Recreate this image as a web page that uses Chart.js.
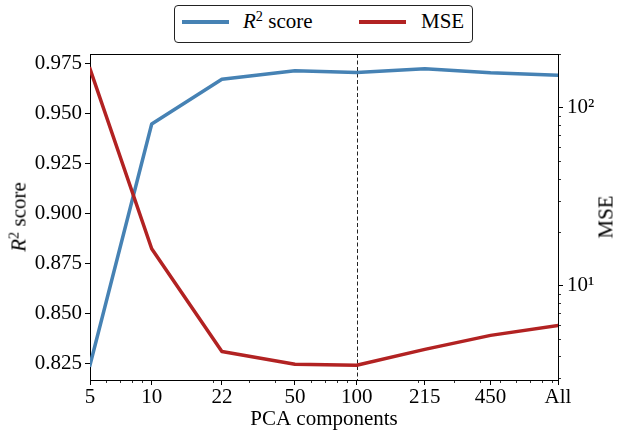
<!DOCTYPE html>
<html>
<head>
<meta charset="utf-8">
<script src="https://cdn.jsdelivr.net/npm/chart.js@4"></script>
<style>
  body { margin: 0; background: #fff; }
  #wrap { position: relative; width: 617px; height: 432px; font-family: 'Liberation Serif', serif; color: #000; }
  #legend { position: absolute; left: 174px; top: 5px; width: 297px; height: 36px; border: 1px solid #222; border-radius: 4px; background: #fff; }
  .swatch { position: absolute; top: 14px; width: 47px; height: 4px; }
  .lbl { position: absolute; top: 5px; font-size: 21px; line-height: 21px; white-space: nowrap; }
  .sup { font-size: 0.68em; position: relative; top: -0.5em; }
  .ytitle { position: absolute; font-size: 21px; line-height: 21px; white-space: nowrap; transform: translate(-50%, -50%) rotate(-90deg); }
</style>
</head>
<body>
<div id="wrap">
  <canvas id="myChart" width="617" height="432"></canvas>
  <div id="legend">
    <div class="swatch" style="left:7px; background:#4682b4"></div>
    <div class="lbl" style="left:68px"><i>R</i><span class="sup">2</span> score</div>
    <div class="swatch" style="left:184px; background:#b22222"></div>
    <div class="lbl" style="left:246px">MSE</div>
  </div>
  <div class="ytitle" style="left:20px; top:217px"><i>R</i><span class="sup">2</span> score</div>
  <div class="ytitle" style="left:606px; top:217px">MSE</div>
</div>
<script>
// data
const xLabels = ["5", "10", "22", "50", "100", "215", "450", "All"];
const components = [5, 10, 22, 50, 100, 215, 450, 960];
const r2Score = [0.824, 0.9446, 0.967, 0.9712, 0.9704, 0.9722, 0.9702, 0.969];
const mse = [166, 16.1, 4.25, 3.6, 3.56, 4.37, 5.24, 5.96];
const r2Ticks = [0.825, 0.85, 0.875, 0.9, 0.925, 0.95, 0.975];
const mseTicks = [10, 100];
const mseTickLabels = ["10¹", "10²"];
const cutoff = 100;

const xMinor = [6, 7, 8, 9, 20, 30, 40, 60, 70, 80, 90, 200, 300, 400, 500, 600, 700, 800, 900];
const mseMinor = [3, 4, 5, 6, 7, 8, 9, 20, 30, 40, 50, 60, 70, 80, 90, 200];

// matplotlib style 5% margins
const r2Lo = Math.min(...r2Score), r2Hi = Math.max(...r2Score);
const r2Pad = 0.05 * (r2Hi - r2Lo);
const mLo = Math.log10(Math.min(...mse)), mHi = Math.log10(Math.max(...mse));
const mPad = 0.05 * (mHi - mLo);

const font = { family: "'Liberation Serif', serif", size: 21 };
const black = "#000";

const frame = {
  id: "frame",
  beforeDatasetsDraw(chart) {
    const { ctx, chartArea: a, scales } = chart;
    ctx.save();
    // dashed marker
    const px = Math.round(scales.x.getPixelForValue(cutoff)) + 0.5;
    ctx.strokeStyle = "#222";
    ctx.lineWidth = 1;
    ctx.setLineDash([4, 2.5]);
    ctx.beginPath();
    ctx.moveTo(px, a.top);
    ctx.lineTo(px, a.bottom);
    ctx.stroke();
    ctx.restore();
  },
  afterDraw(chart) {
    const { ctx, chartArea: a, scales } = chart;
    ctx.save();
    ctx.strokeStyle = black;
    ctx.lineWidth = 1;
    ctx.beginPath();
    ctx.moveTo(a.left, Math.round(a.top) + 0.5);
    ctx.lineTo(a.right + 1, Math.round(a.top) + 0.5);
    ctx.stroke();
    // minor ticks
    ctx.lineWidth = 0.8;
    ctx.beginPath();
    xMinor.forEach((v) => {
      if (v <= scales.x.min || v >= scales.x.max) return;
      const px = Math.round(scales.x.getPixelForValue(v)) + 0.5;
      ctx.moveTo(px, a.bottom);
      ctx.lineTo(px, a.bottom + 3);
    });
    mseMinor.forEach((v) => {
      if (v <= scales.y1.min || v >= scales.y1.max) return;
      const py = Math.round(scales.y1.getPixelForValue(v)) + 0.5;
      ctx.moveTo(a.right, py);
      ctx.lineTo(a.right + 3, py);
    });
    ctx.stroke();
    ctx.restore();
  },
};

const data = {
  datasets: [
    {
      label: "R² score",
      data: components.map((c, i) => ({ x: c, y: r2Score[i] })),
      yAxisID: "y",
      borderColor: "#4682b4",
      borderWidth: 3.5,
      pointRadius: 0,
      borderJoinStyle: "round",
      borderCapStyle: "square",
      order: 2,
    },
    {
      label: "MSE",
      data: components.map((c, i) => ({ x: c, y: mse[i] })),
      yAxisID: "y1",
      borderColor: "#b22222",
      borderWidth: 3.5,
      pointRadius: 0,
      borderJoinStyle: "round",
      borderCapStyle: "square",
      order: 1,
    },
  ],
};

const config = {
  type: "line",
  data,
  options: {
    responsive: false,
    animation: false,
    layout: { padding: { top: 54, left: 0, right: 0, bottom: 0 } },
    plugins: { legend: { display: false }, tooltip: { enabled: false } },
    scales: {
      x: {
        type: "logarithmic",
        bounds: "data",
        min: components[0],
        max: components[components.length - 1],
        afterBuildTicks: (s) => { s.ticks = components.map((v) => ({ value: v })); },
        afterFit: (s) => { s.height = 52; },
        ticks: { autoSkip: false, maxRotation: 0, minRotation: 0, color: black, font, padding: 0,
          callback: (v, i) => xLabels[i] },
        grid: { drawOnChartArea: false, tickLength: 5, tickColor: black, tickWidth: 1 },
        border: { color: black, width: 1 },
        title: { display: true, text: "PCA components", color: black, font, padding: { top: 0, bottom: 0 } },
      },
      y: {
        type: "linear",
        position: "left",
        bounds: "data",
        min: r2Lo - r2Pad,
        max: r2Hi + r2Pad,
        afterBuildTicks: (s) => { s.ticks = r2Ticks.map((v) => ({ value: v })); },
        afterFit: (s) => { s.width = 90; },
        ticks: { color: black, font, padding: 3, callback: (v) => v.toFixed(3) },
        grid: { drawOnChartArea: false, tickLength: 5, tickColor: black, tickWidth: 1 },
        border: { color: black, width: 1 },
      },
      y1: {
        type: "logarithmic",
        position: "right",
        bounds: "data",
        min: Math.pow(10, mLo - mPad),
        max: Math.pow(10, mHi + mPad),
        afterBuildTicks: (s) => { s.ticks = mseTicks.map((v) => ({ value: v })); },
        afterFit: (s) => { s.width = 59; },
        ticks: { color: black, font, padding: 4, callback: (v, i) => mseTickLabels[i] },
        grid: { drawOnChartArea: false, tickLength: 5, tickColor: black, tickWidth: 1 },
        border: { color: black, width: 1 },
      },
    },
  },
  plugins: [frame],
};

const myChart = new Chart(document.getElementById("myChart"), config);
</script>
</body>
</html>
